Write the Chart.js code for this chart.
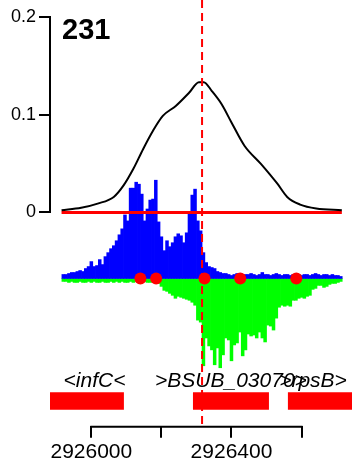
<!DOCTYPE html>
<html>
<head>
<meta charset="utf-8">
<script src="https://cdn.jsdelivr.net/npm/chart.js@4.4.1/dist/chart.umd.min.js"></script>
<style>
  body { margin: 0; background: #fff; }
  #wrap { position: relative; width: 358px; height: 467px; }
  #num { position: absolute; left: 62px; top: 15px; font: bold 29px "Liberation Sans", Arial, sans-serif; line-height: 29px; color: #000; }
</style>
</head>
<body>
<div id="wrap">
  <canvas id="c"></canvas>
  <div id="num">231</div>
</div>
<script>
// smoothed profile (black curve)
var curvePos = [2925915, 2925971, 2926018, 2926064, 2926092, 2926120, 2926148, 2926176, 2926204, 2926241,
                2926279, 2926307, 2926321, 2926344, 2926372, 2926400, 2926437, 2926484, 2926531, 2926559,
                2926596, 2926642, 2926715];
var curveVal = [0.0023, 0.0048, 0.0091, 0.0159, 0.0277, 0.0447, 0.065, 0.0836, 0.0988, 0.109,
                0.1225, 0.1333, 0.1333, 0.1242, 0.1107, 0.0921, 0.0683, 0.0497, 0.0294, 0.0159,
                0.0081, 0.0041, 0.0023];

// coverage bins (8 bp each) - plus strand up, minus strand down
var binStart = 2925916;
var binWidth = 8;
var plusCov = [4, 4, 5, 6, 6, 7, 8, 7, 10, 12,
               17, 12, 13, 19, 14, 22, 26, 30, 33, 38,
               44, 50, 64, 58, 91, 91, 97, 95, 85, 58,
               70, 79, 80, 99, 57, 42, 28, 38, 32, 36,
               42, 45, 43, 36, 46, 66, 84, 90, 58, 48,
               26, 16, 12, 11, 10, 7, 6, 5, 5, 4,
               3, 4, 5, 4, 3, 4, 4, 5, 4, 3,
               4, 6, 4, 4, 3, 4, 5, 4, 3, 4,
               4, 3, 4, 5, 4, 3, 4, 4, 3, 4,
               5, 4, 3, 4, 4, 3, 4, 3, 3, 2];
var minusCov = [3, 3, 4, 3, 4, 4, 3, 4, 4, 3,
                4, 3, 4, 4, 3, 4, 4, 3, 4, 3,
                4, 3, 4, 4, 3, 4, 3, 4, 4, 3,
                4, 4, 3, 4, 5, 8, 12, 13, 15, 17,
                20, 18, 19, 20, 21, 22, 24, 27, 42, 44,
                88, 60, 68, 72, 87, 70, 90, 77, 60, 62,
                83, 67, 65, 54, 78, 72, 56, 58, 57, 60,
                54, 60, 64, 47, 48, 52, 40, 29, 27, 28,
                27, 28, 22, 22, 20, 19, 20, 18, 17, 11,
                10, 7, 7, 9, 8, 6, 5, 5, 4, 3];

// called sites (red dots) and the cut position (dashed line)
var sitePos = [2926140, 2926185, 2926323, 2926425, 2926585];
var cutPos = 2926316;

// genes
var geneName = ['infC', 'BSUB_03070', 'rpsB'];
var geneStrand = ['-', '+', '+'];
var geneStart = [2925700, 2926291, 2926562];
var geneEnd = [2926092, 2926506, 2927300];

// x tick labels
var xTickLabels = [2926000, 2926400];

Chart.defaults.font.family = '"Liberation Sans", Arial, sans-serif';
Chart.defaults.color = '#000';

var geneRow = 0.52;
var xMin = 2925882, xMax = 2926744;
// bar width in px for one bin (plot area is 308 px wide)
var binPx = binWidth * 308 / (xMax - xMin);

var extras = {
  id: 'extras',
  afterDatasetsDraw: function(chart) {
    var ctx = chart.ctx, x = chart.scales.x, yg = chart.scales.yg;
    var t = x.ticks;
    ctx.save();
    ctx.strokeStyle = '#000';
    ctx.lineWidth = 2;
    ctx.beginPath();
    ctx.moveTo(x.getPixelForValue(t[0].value) - 1, x.top + 1);
    ctx.lineTo(x.getPixelForValue(t[t.length - 1].value) + 1, x.top + 1);
    ctx.stroke();

    // gene labels, centred on the visible part, kept inside the data range
    ctx.font = 'italic 21px "Liberation Sans", Arial, sans-serif';
    ctx.fillStyle = '#000';
    ctx.textBaseline = 'alphabetic';
    var lo = x.getPixelForValue(curvePos[0]) + 2;
    var hi = x.getPixelForValue(curvePos[curvePos.length - 1]) + 5;
    var yText = yg.getPixelForValue(geneRow) - 8.5 - 6;
    for (var i = 0; i < geneName.length; i++) {
      var txt = geneStrand[i] === '-' ? '<' + geneName[i] + '<' : '>' + geneName[i] + '>';
      var a = Math.max(x.getPixelForValue(geneStart[i]), x.left);
      var b = Math.min(x.getPixelForValue(geneEnd[i]), x.right);
      var w = ctx.measureText(txt).width;
      var left = (a + b) / 2 - w / 2;
      if (left < lo) left = lo;
      if (left + w > hi) left = hi - w;
      ctx.fillText(txt, left, yText);
    }
    ctx.restore();
  }
};

new Chart(document.getElementById('c'), {
  type: 'bar',
  data: {
    datasets: [
      {
        type: 'line', yAxisID: 'yb', xAxisID: 'x', order: 0,
        data: sitePos.map(function(p) { return {x: p, y: 0}; }),
        showLine: false, pointRadius: 6, pointHoverRadius: 6,
        pointBackgroundColor: '#ff0000', pointBorderWidth: 0, borderColor: '#ff0000'
      },
      {
        type: 'line', yAxisID: 'yc', xAxisID: 'x', order: 1, clip: false,
        data: [{x: cutPos, y: 0.2173}, {x: cutPos, y: -0.2193}],
        borderColor: '#ff0000', borderWidth: 2, borderDash: [8, 5], pointRadius: 0
      },
      {
        type: 'line', yAxisID: 'yc', xAxisID: 'x', order: 2,
        data: curvePos.map(function(p, i) { return {x: p, y: curveVal[i]}; }),
        borderColor: '#000', borderWidth: 2, pointRadius: 0, cubicInterpolationMode: 'monotone'
      },
      {
        type: 'line', yAxisID: 'yc', xAxisID: 'x', order: 2, clip: false,
        data: [{x: curvePos[0], y: 0}, {x: curvePos[curvePos.length - 1], y: 0}],
        borderColor: '#ff0000', borderWidth: 3, pointRadius: 0
      },
      {
        type: 'bar', yAxisID: 'yb', xAxisID: 'x', order: 3, grouped: false, clip: false,
        data: plusCov.map(function(v, i) { return {x: binStart + binWidth * (i + 0.5), y: v}; }),
        backgroundColor: '#0000ff', borderWidth: 0, barThickness: binPx
      },
      {
        type: 'bar', yAxisID: 'yb', xAxisID: 'x', order: 4, grouped: false, clip: false,
        data: minusCov.map(function(v, i) { return {x: binStart + binWidth * (i + 0.5), y: -v}; }),
        backgroundColor: '#00ff00', borderWidth: 0, barThickness: binPx
      },
      {
        type: 'bar', indexAxis: 'y', yAxisID: 'yg', xAxisID: 'x', order: 5, grouped: false, clip: 0,
        data: geneStart.map(function(s, i) { return {x: [s, geneEnd[i]], y: geneRow}; }),
        backgroundColor: '#ff0000', borderWidth: 0, barThickness: 17
      }
    ]
  },
  options: {
    responsive: true,
    maintainAspectRatio: false,
    animation: false,
    events: [],
    layout: { padding: { top: 17, left: 0, right: 0, bottom: 0 } },
    plugins: { legend: { display: false }, tooltip: { enabled: false } },
    scales: {
      x: {
        type: 'linear', position: 'bottom', min: xMin, max: xMax, offset: false,
        border: { display: false },
        grid: { offset: false, drawOnChartArea: false, drawTicks: true, tickLength: 12, color: '#000', lineWidth: 2 },
        ticks: {
          stepSize: 200, includeBounds: false, autoSkip: false, maxRotation: 0, padding: 2,
          font: { size: 21 }, color: '#000',
          callback: function(v) { return xTickLabels.indexOf(v) >= 0 ? String(v) : ''; }
        }
      },
      yg: {
        type: 'linear', position: 'left', stack: 'v', stackWeight: 49, min: 0, max: 1,
        border: { display: false },
        grid: { display: false, drawTicks: false },
        ticks: { display: false }
      },
      yb: {
        type: 'linear', position: 'left', stack: 'v', stackWeight: 166, min: -99.5, max: 66.5,
        border: { display: false },
        grid: { display: false, drawTicks: false },
        ticks: { display: false }
      },
      yc: {
        type: 'linear', position: 'left', stack: 'v', stackWeight: 197, min: 0, max: 0.2,
        border: { display: true, color: '#000', width: 2 },
        grid: { drawOnChartArea: false, tickLength: 11, color: '#000', lineWidth: 2 },
        ticks: { stepSize: 0.1, padding: 3, font: { size: 18 }, color: '#000' },
        afterFit: function(s) { s.width = 50; }
      }
    }
  },
  plugins: [extras]
});
</script>
</body>
</html>
